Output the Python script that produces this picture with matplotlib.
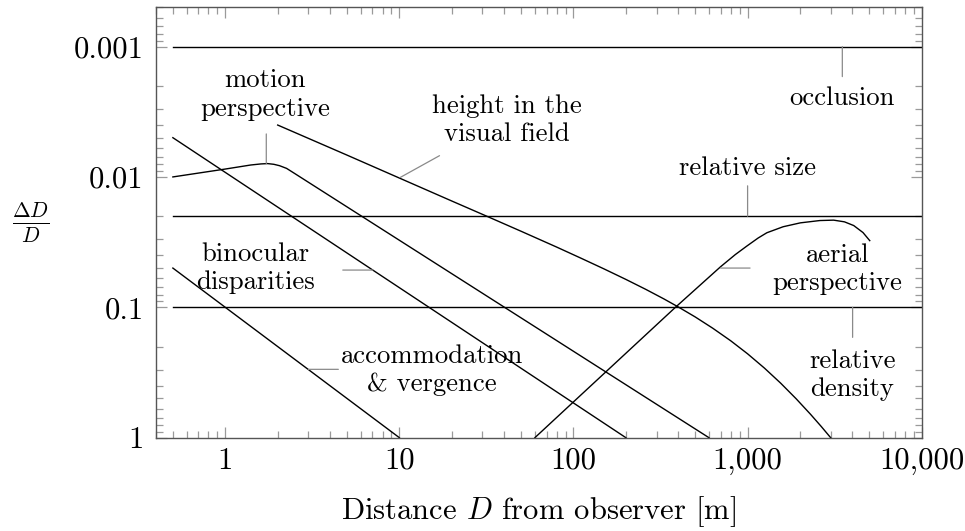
import matplotlib
matplotlib.use("Agg")
import matplotlib.pyplot as plt
from matplotlib.ticker import FixedLocator, FixedFormatter, LogLocator, NullFormatter

plt.rcParams['font.family'] = ['cmr10', 'DejaVu Serif']
plt.rcParams['mathtext.fontset'] = 'cm'
plt.rcParams['axes.formatter.use_mathtext'] = True

# ---- data (distance D [m], depth threshold dD/D) ----
occlusion_D = [0.5, 10000]
occlusion_v = [0.001, 0.001]

relsize_D = [0.5, 10000]
relsize_v = [0.02, 0.02]

reldensity_D = [0.5, 10000]
reldensity_v = [0.1, 0.1]

accommodation_D = [0.5, 10]
accommodation_v = [0.05, 1.0]

binocular_D = [0.5, 200]
binocular_v = [0.005, 1.0]

motion_D = [0.5, 1.0, 1.4, 1.6, 1.75, 1.9, 2.05, 2.25, 2.5, 600]
motion_v = [0.0100, 0.0087, 0.0081, 0.00795, 0.0079, 0.00800, 0.0082, 0.0086, 0.0094, 1.0]

height_D = [2, 5, 10, 20, 32, 50, 80, 110, 150, 200, 260, 330, 400, 500, 630, 800,
            1000, 1250, 1550, 1900, 2300, 2650, 3000]
height_v = [0.0040, 0.0068, 0.0102, 0.0153, 0.0201, 0.0261, 0.0345, 0.0419, 0.0508, 0.0611,
            0.0728, 0.0861, 0.0994, 0.1185, 0.1445, 0.1806, 0.2273, 0.2927, 0.3821, 0.5026,
            0.662, 0.821, 1.0]

aerial_D = [60, 385, 700, 850, 990, 1150, 1290, 1600, 2010, 2600, 3120, 3600, 4070, 4600, 5030]
aerial_v = [1.0, 0.10, 0.0488, 0.0394, 0.0339, 0.0294, 0.0268, 0.0241, 0.0225, 0.0216,
            0.02145, 0.0221, 0.0236, 0.0267, 0.0308]

xticks = [1, 10, 100, 1000, 10000]
xticklabels = ['1', '10', '100', '1,000', '10,000']
yticks = [0.001, 0.01, 0.1, 1]
yticklabels = ['0.001', '0.01', '0.1', '1']

fig = plt.figure(figsize=(9.65, 5.31), dpi=100)
ax = fig.add_axes([156/965, 1-437.7/531, (921.7-156)/965, (437.7-7.3)/531])

lw = 1.0
for D, v in [(occlusion_D, occlusion_v), (relsize_D, relsize_v), (reldensity_D, reldensity_v),
             (accommodation_D, accommodation_v), (binocular_D, binocular_v),
             (motion_D, motion_v), (height_D, height_v), (aerial_D, aerial_v)]:
    ax.plot(D, v, color='black', lw=lw, solid_joinstyle='round')

ax.set_xscale('log')
ax.set_yscale('log')
ax.set_xlim(0.4, 10000)
ax.set_ylim(1, 0.0005)

ax.xaxis.set_major_locator(FixedLocator(xticks))
ax.xaxis.set_major_formatter(FixedFormatter(xticklabels))
ax.yaxis.set_major_locator(FixedLocator(yticks))
ax.yaxis.set_major_formatter(FixedFormatter(yticklabels))
ax.xaxis.set_minor_locator(LogLocator(base=10, subs=range(2, 10), numticks=20))
ax.yaxis.set_minor_locator(LogLocator(base=10, subs=range(2, 10), numticks=20))
ax.xaxis.set_minor_formatter(NullFormatter())
ax.yaxis.set_minor_formatter(NullFormatter())

tick_color = '#9a9a9a'
ax.tick_params(which='both', direction='in', top=True, right=True, color=tick_color, width=0.9)
ax.tick_params(which='major', length=7.9)
ax.tick_params(which='minor', length=4.8)
ax.tick_params(axis='x', which='major', labelsize=22, pad=7)
ax.tick_params(axis='y', which='major', labelsize=22, pad=9)
for s in ax.spines.values():
    s.set_color('#555555')
    s.set_linewidth(1.0)

ax.set_xlabel(r'Distance $D$ from observer [m]', fontsize=22, labelpad=14)
fig.text(31/965, 1-223/531, r'$\frac{\Delta D}{D}$', fontsize=22, ha='center', va='center')

lab_fs = 19.2
ls = 1.25
lead = dict(arrowstyle='-', color='#8a8a8a', lw=0.9, shrinkA=0, shrinkB=0)

def leader(p0, p1):
    ax.annotate('', xy=p0, xytext=p1, arrowprops=lead)

# occlusion
leader((3500, 0.001), (3500, 0.0017))
ax.text(3500, 0.00249, 'occlusion', fontsize=lab_fs, ha='center', va='center')
# relative size
leader((1000, 0.02), (1000, 0.0117))
ax.text(1000, 0.0085, 'relative size', fontsize=lab_fs, ha='center', va='center')
# motion perspective
leader((1.72, 0.0079), (1.72, 0.00468))
ax.text(1.69, 0.00233, 'motion\nperspective', fontsize=lab_fs, ha='center', va='center', linespacing=ls)
# height in the visual field
leader((10.1, 0.0101), (17.0, 0.00687))
ax.text(41.3, 0.00367, 'height in the\nvisual field', fontsize=lab_fs, ha='center', va='center', linespacing=ls)
# binocular disparities
leader((7.03, 0.0518), (4.73, 0.0518))
ax.text(1.49, 0.0502, 'binocular\ndisparities', fontsize=lab_fs, ha='center', va='center', linespacing=ls)
# accommodation & vergence
leader((3.0, 0.299), (4.46, 0.299))
ax.text(15.4, 0.303, 'accommodation\n& vergence', fontsize=lab_fs, ha='center', va='center', linespacing=ls)
# aerial perspective
leader((700, 0.0500), (1033, 0.0500))
ax.text(3280, 0.0508, 'aerial\nperspective', fontsize=lab_fs, ha='center', va='center', linespacing=ls)
# relative density
leader((4010, 0.1), (4010, 0.170))
ax.text(4000, 0.331, 'relative\ndensity', fontsize=lab_fs, ha='center', va='center', linespacing=ls)

fig.savefig('out.png', dpi=100)
